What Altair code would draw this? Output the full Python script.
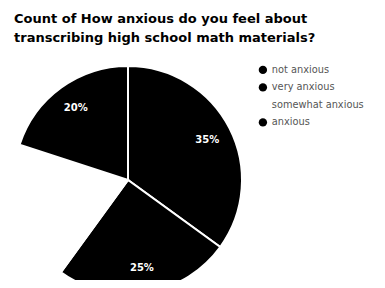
import altair as alt
import pandas as pd

categories = ["not anxious", "very anxious", "somewhat anxious", "anxious"]
values = [35, 25, 20, 20]
labels = ["35%", "25%", "", "20%"]
slice_colors = ["#000000", "#000000", "#ffffff", "#000000"]
title_lines = ["Count of How anxious do you feel about",
               "transcribing high school math materials?"]

df = pd.DataFrame({"category": categories, "value": values,
                   "label": labels, "order": list(range(len(categories)))})

FONT = "DejaVu Sans"
cx, cy = 120, 172

color = alt.Color(
    "category:N",
    scale=alt.Scale(domain=categories, range=slice_colors),
    sort=categories,
    legend=alt.Legend(
        title=None, orient="none", legendX=250, legendY=57,
        symbolType="circle", symbolSize=70, symbolStrokeWidth=0,
        labelFont=FONT, labelFontSize=9.8, labelColor="#555555",
        rowPadding=6.5, labelOffset=4,
    ),
)

pie = alt.Chart(df).mark_arc(radius=114, stroke="white", strokeWidth=2).encode(
    theta=alt.Theta("value:Q", stack=True),
    order=alt.Order("order:Q"),
    color=color,
    x=alt.value(cx), y=alt.value(cy),
)

text = alt.Chart(df).mark_text(radius=89, color="white", font=FONT,
                               fontSize=10, fontWeight="bold").encode(
    theta=alt.Theta("value:Q", stack=True),
    order=alt.Order("order:Q"),
    text="label:N",
    x=alt.value(cx), y=alt.value(cy),
)

tdf = pd.DataFrame({"title": ["\n".join(title_lines)]})
title = alt.Chart(tdf).mark_text(align="left", baseline="alphabetic", font=FONT,
                                 fontSize=13, fontWeight="bold", color="#000000",
                                 lineBreak="\n", lineHeight=19).encode(
    text="title:N",
    x=alt.value(6),
    y=alt.value(15),
)

chart = alt.layer(pie, text, title).properties(
    width=369, height=272, padding=0,
    autosize=alt.AutoSizeParams(type="none"),
).configure_view(stroke=None)

chart.save("out.html", embed_options={"renderer": "svg", "actions": False})
